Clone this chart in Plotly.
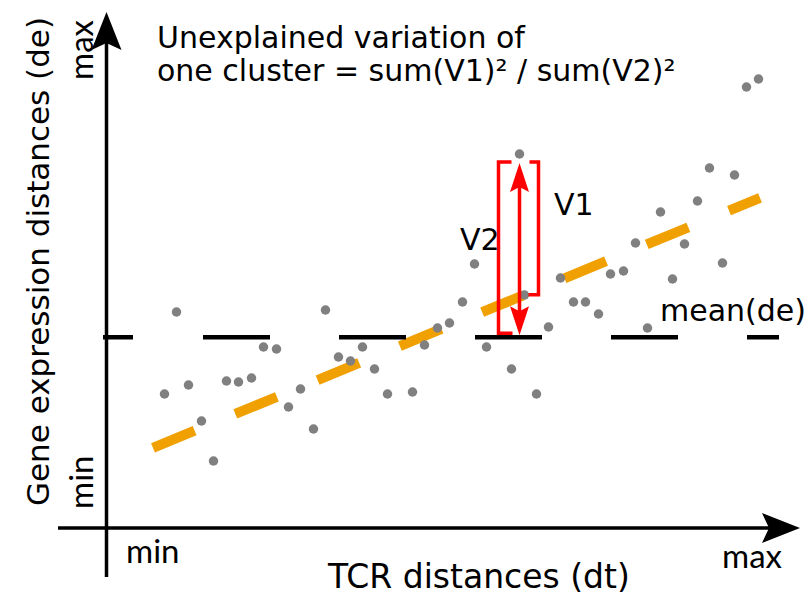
import plotly.graph_objects as go

# ---- data (axis origin at 0,0; arbitrary distance units) ----
dt = [58, 70, 82, 95, 107, 120, 132, 145, 157, 170, 182, 194, 207, 219, 232, 244,
      256, 268, 281, 306, 318, 331, 343, 356, 368, 380, 405, 413, 418, 430, 442,
      454, 467, 479, 492, 504, 517, 529, 541, 554, 566, 578, 591, 603, 616, 628,
      640, 652]
de = [134, 216, 143, 107, 67, 147, 146, 150, 181, 179, 121, 139, 99, 218, 171, 167,
      181, 159, 134, 136, 183, 200, 205, 226, 264, 181, 159, 374, 233, 134, 201,
      250, 226, 226, 214, 254, 257, 285, 200, 316, 249, 284, 327, 360, 265, 353,
      441, 449]

mean_de = 190.7
fit_intercept = 61.0      # fitted de at dt = 0
fit_slope = 0.412
fit_dt_range = [46.5, 653.5]
highlight_index = 27      # observation used to illustrate V1 / V2

tick_min_label = "min"
tick_max_label = "max"
x_title = "TCR distances (dt)"
y_title = "Gene expression distances (de)"
title_lines = ["Unexplained variation of", "one cluster = sum(V1)² / sum(V2)²"]

# ---- styles ----
FONT = "DejaVu Sans"
GRAY = "#808080"
ORANGE = "#F0A000"
RED = "#FF0000"

X_RANGE = [-106.5, 704.5]
Y_RANGE = [-73.0, 528.0]

fig = go.Figure()

# fitted regression line
fit_y = [fit_intercept + fit_slope * v for v in fit_dt_range]
fig.add_trace(go.Scatter(x=fit_dt_range, y=fit_y, mode="lines",
                         line=dict(color=ORANGE, width=10, dash="45px,44px"),
                         hoverinfo="skip"))

# mean of de
mean_x = [-3.5, 672.5]
fig.add_trace(go.Scatter(x=mean_x, y=[mean_de, mean_de], mode="lines",
                         line=dict(color="black", width=4.5,
                                   dash="30px,70px,67px,69px,67px,69px,67px,69px,67px,69px,67px,69px"),
                         hoverinfo="skip"))

# observations
fig.add_trace(go.Scatter(x=dt, y=de, mode="markers",
                         marker=dict(color=GRAY, size=9.5, line=dict(width=0)),
                         hoverinfo="skip"))

# V1 / V2 brackets around the highlighted observation
px_, py_ = dt[highlight_index], de[highlight_index]
fit_at_p = fit_intercept + fit_slope * px_
top = py_ - 8
v2_x = px_ - 21
v1_x = px_ + 19
fig.add_trace(go.Scatter(x=[v2_x + 13, v2_x, v2_x, v2_x + 14],
                         y=[top, top, mean_de + 4, mean_de + 4], mode="lines",
                         line=dict(color=RED, width=3.5), hoverinfo="skip"))
fig.add_trace(go.Scatter(x=[v1_x - 9, v1_x, v1_x, v1_x - 10],
                         y=[top, top, fit_at_p + 2, fit_at_p + 2], mode="lines",
                         line=dict(color=RED, width=3.5), hoverinfo="skip"))
arrow_top = py_ - 9
arrow_bot = mean_de + 2
fig.add_trace(go.Scatter(x=[px_, px_], y=[arrow_top - 20, arrow_bot + 20], mode="lines",
                         line=dict(color=RED, width=3.5), hoverinfo="skip"))


def stealth(tx, ty, dx, dy, length, half, notch, color):
    """Filled arrowhead with a notched back, tip at (tx, ty), pointing along (dx, dy)."""
    nx, ny = -dy, dx
    bx, by = tx - dx * length, ty - dy * length
    p1 = (bx + nx * half, by + ny * half)
    p2 = (tx - dx * (length - notch), ty - dy * (length - notch))
    p3 = (bx - nx * half, by - ny * half)
    path = f"M {tx},{ty} L {p1[0]},{p1[1]} L {p2[0]},{p2[1]} L {p3[0]},{p3[1]} Z"
    return dict(type="path", path=path, xref="x", yref="y",
                fillcolor=color, line=dict(width=0), layer="above")


shapes = []
# axes
shapes.append(dict(type="line", xref="x", yref="y", x0=0, x1=0, y0=-49, y1=490,
                   line=dict(color="black", width=3.5)))
shapes.append(dict(type="line", xref="x", yref="y", x0=-48.5, x1=665, y0=0, y1=0,
                   line=dict(color="black", width=3.5)))
shapes.append(stealth(0, 516, 0, 1, 38, 15, 7, "black"))
shapes.append(stealth(693.5, 0, 1, 0, 38, 15, 7, "black"))
# double-headed red arrow
shapes.append(stealth(px_, arrow_top, 0, 1, 29, 9.5, 5, RED))
shapes.append(stealth(px_, arrow_bot, 0, -1, 29, 9.5, 5, RED))

annotations = []


def label(text, x, y, size, xanchor="left", angle=0, family=FONT):
    annotations.append(dict(text=text, x=x, y=y, xref="x", yref="y",
                            xanchor=xanchor, yanchor="middle", textangle=angle,
                            showarrow=False,
                            font=dict(family=family, size=size, color="black")))


label(title_lines[0], 48.5, 491, 30)
label(title_lines[1], 48.5, 458, 30)
label("V1", 445.5, 324, 30)
label("V2", 351.5, 289, 30)
label("mean(de)", 551.5, 218, 30)
label(x_title, 371.5, -48, 33, xanchor="center")
label(tick_min_label, 46, -22, 33, xanchor="center", family="Lato")
label(tick_max_label, 646, -27, 33, xanchor="center", family="Lato")
label(tick_max_label, -26.5, 478, 33, xanchor="center", angle=-90, family="Lato")
label(tick_min_label, -26.5, 45, 33, xanchor="center", angle=-90, family="Lato")
label(y_title, -68.5, 266, 31, xanchor="center", angle=-90)

fig.update_layout(
    width=811, height=601,
    margin=dict(l=0, r=0, t=0, b=0),
    paper_bgcolor="white", plot_bgcolor="white",
    showlegend=False,
    xaxis=dict(range=X_RANGE, visible=False, fixedrange=True),
    yaxis=dict(range=Y_RANGE, visible=False, fixedrange=True),
    shapes=shapes, annotations=annotations,
)

fig.write_html("out.html")
